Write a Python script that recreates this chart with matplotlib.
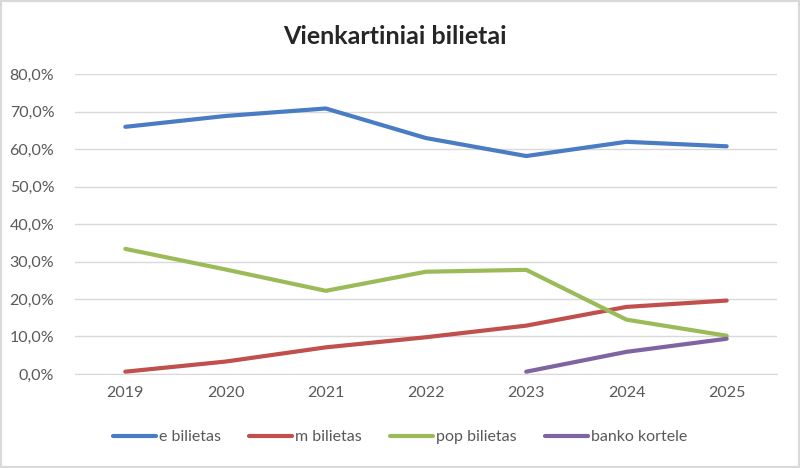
import matplotlib.pyplot as plt
from matplotlib.patches import Rectangle
from matplotlib.ticker import FuncFormatter

years = ["2019", "2020", "2021", "2022", "2023", "2024", "2025"]
e_bilietas = [66.0, 68.9, 70.9, 63.0, 58.2, 62.0, 60.8]
m_bilietas = [0.6, 3.3, 7.1, 9.8, 12.9, 17.9, 19.6]
pop_bilietas = [33.4, 27.9, 22.2, 27.3, 27.8, 14.5, 10.2]
banko_years = ["2023", "2024", "2025"]
banko_kortele = [0.6, 5.9, 9.4]

plt.rcParams['font.family'] = ['Lato', 'DejaVu Sans']

fig = plt.figure(figsize=(8, 4.68), dpi=100)
ax = fig.add_axes([0.094, 0.201, 0.877, 0.640])

x = list(range(len(years)))
xb = [years.index(y) for y in banko_years]

ax.plot(x, e_bilietas, color="#4A7CC4", lw=3, label="e bilietas", solid_capstyle="round")
ax.plot(x, m_bilietas, color="#C0504D", lw=3, label="m bilietas", solid_capstyle="round")
ax.plot(x, pop_bilietas, color="#9BBB59", lw=3, label="pop bilietas", solid_capstyle="round")
ax.plot(xb, banko_kortele, color="#8064A2", lw=3, label="banko kortele", solid_capstyle="round")

ax.set_xlim(-0.5, len(years) - 0.5)
ax.set_ylim(0, 80)
ax.set_yticks(range(0, 81, 10))
ax.yaxis.set_major_formatter(FuncFormatter(lambda v, p: f"{v:.1f}%".replace(".", ",")))
ax.set_xticks(x)
ax.set_xticklabels(years)
ax.grid(axis="y", color="#D9D9D9", lw=1)
ax.set_axisbelow(True)
for s in ["top", "right", "left"]:
    ax.spines[s].set_visible(False)
ax.spines["bottom"].set_color("#D9D9D9")
ax.tick_params(length=0, labelsize=11.5, colors="#595959", pad=9)
ax.tick_params(axis="y", pad=15)

fig.text(0.494, 0.921, "Vienkartiniai bilietai", ha="center", va="center",
         fontsize=18, fontweight="bold", color="#262626")

fig.legend(loc="center", bbox_to_anchor=(0.5, 0.066), ncol=4, frameon=False,
           fontsize=11.5, handlelength=2.7, handletextpad=0.2, columnspacing=1.75,
           labelcolor="#595959")

fig.patches.append(Rectangle((0, 0), 1, 1, transform=fig.transFigure, fill=False,
                             edgecolor="#D9D9D9", lw=3))

fig.savefig("out.png", dpi=100)
